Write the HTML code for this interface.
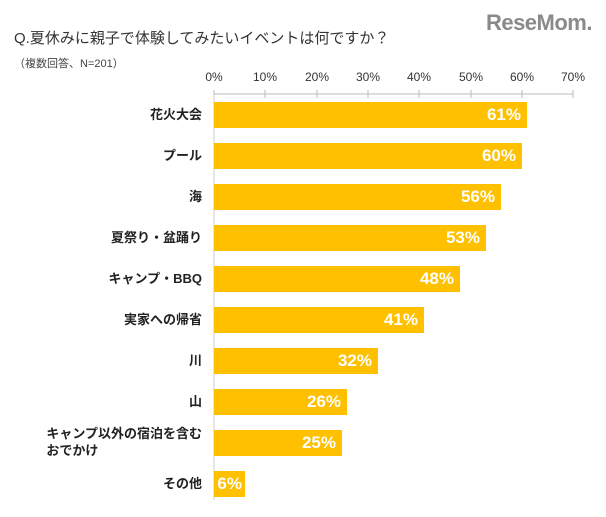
<!DOCTYPE html>
<html><head><meta charset="utf-8"><style>
body{margin:0;width:606px;height:517px;background:#fff;font-family:"Liberation Sans","Noto Sans CJK JP",sans-serif;position:relative;overflow:hidden}
.a{position:absolute;white-space:nowrap}
.t{left:14px;top:27px;font-size:15px;color:#333}
.s{left:14px;top:55px;font-size:11px;color:#444}
.logo{right:14px;top:10px;font-size:22px;font-weight:bold;color:#8a8a8a;letter-spacing:-0.5px}
.tk{top:70px;font-size:12px;color:#333;width:40px;text-align:center;margin-left:-20px}
.lb{right:404px;font-size:13px;font-weight:bold;color:#222;text-align:right;line-height:17px}
.bar{left:214px;height:26px;background:#FFC000}
.v{color:#fff;font-weight:bold;font-size:17px;text-align:right;line-height:26px;padding-right:6px;box-sizing:border-box}
</style></head><body>
<div class="a t">Q.夏休みに親子で体験してみたいイベントは何ですか？</div>
<div class="a s">（複数回答、N=201）</div>
<div class="a logo">ReseMom.</div>
<div class="a tk" style="left:214px">0%</div>
<div class="a tk" style="left:265px">10%</div>
<div class="a tk" style="left:317px">20%</div>
<div class="a tk" style="left:368px">30%</div>
<div class="a tk" style="left:419px">40%</div>
<div class="a tk" style="left:471px">50%</div>
<div class="a tk" style="left:522px">60%</div>
<div class="a tk" style="left:573px">70%</div>
<svg class="a" style="left:0;top:0" width="606" height="517">
<line x1="214" y1="94" x2="573" y2="94" stroke="#bbb"/>
<g stroke="#bbb"><line x1="214" y1="90" x2="214" y2="98"/><line x1="265" y1="90" x2="265" y2="98"/><line x1="317" y1="90" x2="317" y2="98"/><line x1="368" y1="90" x2="368" y2="98"/><line x1="419" y1="90" x2="419" y2="98"/><line x1="471" y1="90" x2="471" y2="98"/><line x1="522" y1="90" x2="522" y2="98"/><line x1="573" y1="90" x2="573" y2="98"/></g>
<line x1="214" y1="94" x2="214" y2="500" stroke="#ccc"/>
</svg>
<div class="a lb" style="top:106px">花火大会</div><div class="a bar v" style="top:102px;width:313px">61%</div>
<div class="a lb" style="top:147px">プール</div><div class="a bar v" style="top:143px;width:308px">60%</div>
<div class="a lb" style="top:188px">海</div><div class="a bar v" style="top:184px;width:287px">56%</div>
<div class="a lb" style="top:229px">夏祭り・盆踊り</div><div class="a bar v" style="top:225px;width:272px">53%</div>
<div class="a lb" style="top:270px">キャンプ・BBQ</div><div class="a bar v" style="top:266px;width:246px">48%</div>
<div class="a lb" style="top:311px">実家への帰省</div><div class="a bar v" style="top:307px;width:210px">41%</div>
<div class="a lb" style="top:352px">川</div><div class="a bar v" style="top:348px;width:164px">32%</div>
<div class="a lb" style="top:393px">山</div><div class="a bar v" style="top:389px;width:133px">26%</div>
<div class="a lb" style="top:425px;text-align:left">キャンプ以外の宿泊を含む<br>おでかけ</div><div class="a bar v" style="top:430px;width:128px">25%</div>
<div class="a lb" style="top:475px">その他</div><div class="a bar v" style="top:471px;width:31px;padding-right:3px">6%</div>
</body></html>
